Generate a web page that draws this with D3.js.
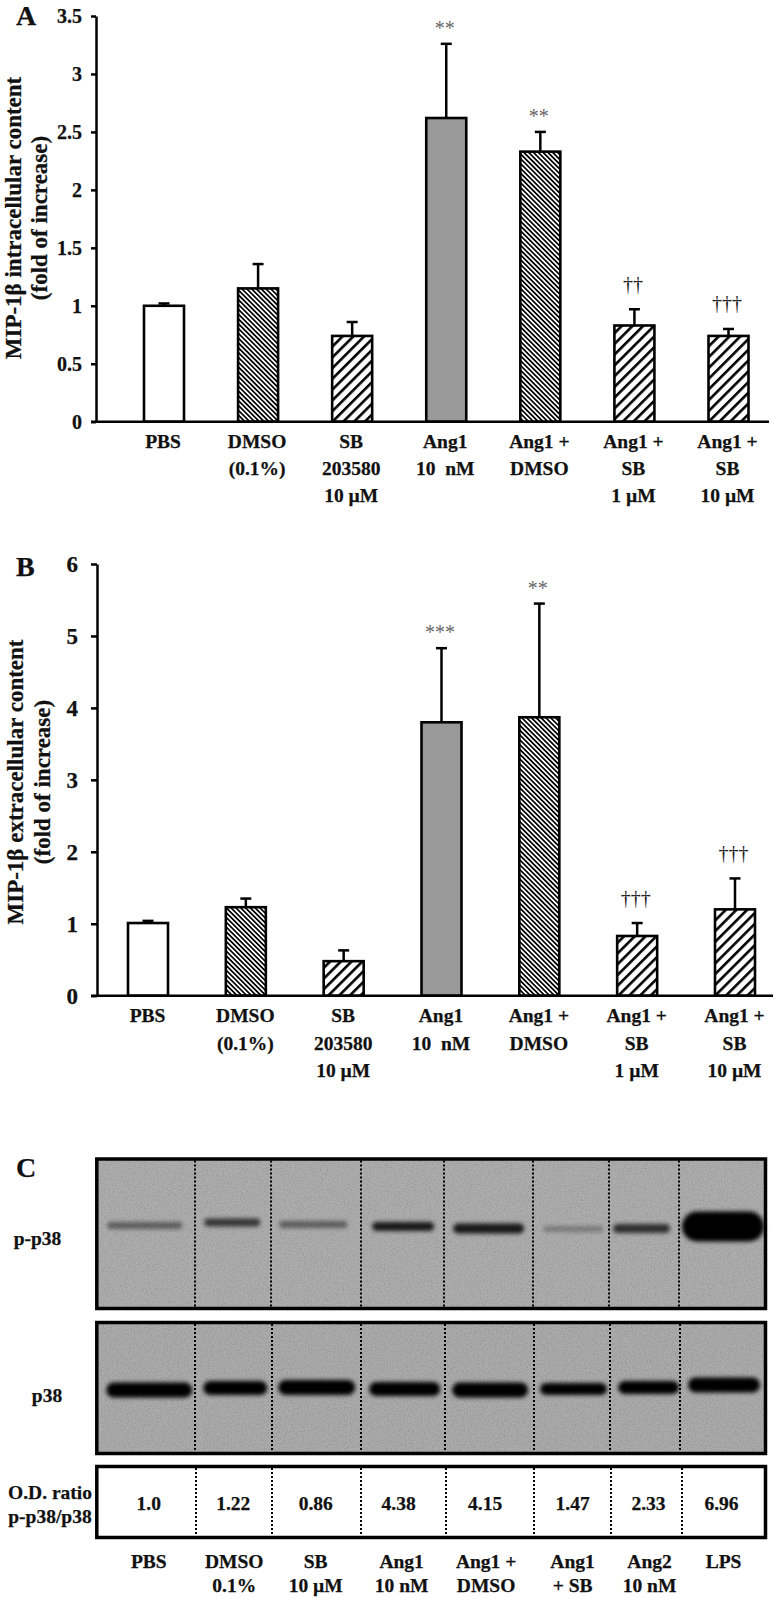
<!DOCTYPE html>
<html>
<head>
<meta charset="utf-8">
<script src="https://cdn.jsdelivr.net/npm/d3@7"></script>
<style>
  html, body { margin: 0; padding: 0; background: #fff; }
  svg { display: block; }
  text { font-family: "Liberation Serif", serif; font-weight: bold; fill: #111; stroke: #111; stroke-width: 0.25; white-space: pre; }
  .sig { font-weight: normal; font-size: 20px; stroke: none; }
</style>
</head>
<body>
<div id="figure"></div>
<script>
// Panels A and B share the treatments
var categories = ["PBS", "DMSO|(0.1%)", "SB|203580|10 µM", "Ang1|10  nM", "Ang1 +|DMSO", "Ang1 +|SB|1 µM", "Ang1 +|SB|10 µM"];

var valuesA = [1.0, 1.15, 0.74, 2.62, 2.33, 0.83, 0.74];
var errTopA = [1.02, 1.36, 0.86, 3.26, 2.50, 0.97, 0.80];
var sigA = ["", "", "", "**", "**", "††", "†††"];
var ticksA = [0, 0.5, 1, 1.5, 2, 2.5, 3, 3.5];

var valuesB = [1.01, 1.23, 0.48, 3.80, 3.87, 0.83, 1.20];
var errTopB = [1.04, 1.35, 0.63, 4.83, 5.45, 1.01, 1.63];
var sigB = ["", "", "", "***", "**", "†††", "†††"];
var ticksB = [0, 1, 2, 3, 4, 5, 6];

// Panel C
var laneLabels = ["PBS", "DMSO|0.1%", "SB|10 µM", "Ang1|10 nM", "Ang1 +|DMSO", "Ang1|+ SB", "Ang2|10 nM", "LPS"];
var odRatio = ["1.0", "1.22", "0.86", "4.38", "4.15", "1.47", "2.33", "6.96"];

// blot readings, gel units along the 672 wide membrane and down from the membrane top
var laneEdges1 = [100, 176, 266, 349, 438, 514, 584];
var laneEdges2 = [100, 177, 266, 350, 439, 515, 585];
var laneEdges3 = [101, 177, 266, 351, 439, 516, 587];

var pBandStart = [12, 109, 184, 277, 358, 448, 518, 587];
var pBandEnd = [87, 165, 252, 339, 429, 508, 575, 669];
var pBandMid = [68, 65, 67, 69, 71, 71.5, 71, 69];
var pBandThick = [7, 8, 7, 9, 10, 6, 9, 30];
var pBandDark = [0.45, 0.68, 0.45, 0.85, 0.85, 0.28, 0.72, 1];

var tBandStart = [11, 108, 183, 274, 357, 445, 523, 593];
var tBandEnd = [97, 172, 260, 345, 433, 512, 584, 665];
var tBandMid = [69, 67, 66.5, 68, 69, 68, 66.5, 64];
var tBandThick = [15, 14, 15, 14, 15, 12, 13, 15];

var svgWidth = 777;
var svgHeight = 1599;

// hand nudges so the lane text sits where it does in the figure
var ratioNudge = [3, -1, -1, -5, -5, 0, 2, -3];
var labelNudge = [3, 0, -1, -2, -4, 0, 3, -1];

var svg = d3.select("#figure")
  .append("svg")
  .attr("width", svgWidth)
  .attr("height", svgHeight);

svg.append("rect")
  .attr("width", svgWidth)
  .attr("height", svgHeight)
  .attr("fill", "#fff");

var defs = svg.append("defs");

function addHatch(id, period, lineWidth, angle) {
  var p = defs.append("pattern")
    .attr("id", id)
    .attr("patternUnits", "userSpaceOnUse")
    .attr("width", period)
    .attr("height", period)
    .attr("patternTransform", `rotate(${angle})`);
  p.append("rect").attr("width", period).attr("height", period).attr("fill", "#fff");
  p.append("rect").attr("width", lineWidth).attr("height", period).attr("fill", "#000");
}
addHatch("dense", 3.4, 1.7, -45);
addHatch("wide", 7.6, 2.6, 45);

// film grain and soft edges for the blots
var grain = defs.append("filter").attr("id", "grain").attr("x", 0).attr("y", 0).attr("width", 1).attr("height", 1);
grain.append("feTurbulence").attr("type", "fractalNoise").attr("baseFrequency", 0.7).attr("numOctaves", 2).attr("seed", 4);
grain.append("feColorMatrix").attr("type", "matrix")
  .attr("values", "0 0 0 0 0  0 0 0 0 0  0 0 0 0 0  1.4 0 0 0 -0.55");

defs.append("filter").attr("id", "soft").attr("x", "-20%").attr("y", "-100%").attr("width", "140%").attr("height", "300%")
  .append("feGaussianBlur").attr("stdDeviation", 2.1);

var barFill = d3.scaleOrdinal()
  .domain(categories)
  .range(["#fff", "url(#dense)", "url(#wide)", "#999", "url(#dense)", "url(#wide)", "url(#wide)"]);

function drawBarPanel(cfg) {
  var x = d3.scalePoint().domain(categories).range(cfg.xRange);
  var y = d3.scaleLinear().domain(cfg.yDomain).range(cfg.yRange);
  var barW = 40;

  var rows = categories.map(function(c, i) {
    return { cat: c, value: cfg.values[i], err: cfg.errTop[i], sig: cfg.sig[i] };
  });

  var g = svg.append("g");

  // error bars go first, the bar outline sits on top of them
  g.selectAll(".err")
    .data(rows)
    .enter()
    .append("line")
    .attr("class", "err")
    .attr("x1", d => x(d.cat))
    .attr("x2", d => x(d.cat))
    .attr("y1", d => y(d.value))
    .attr("y2", d => y(d.err))
    .attr("stroke", "#000")
    .attr("stroke-width", 2.5);

  g.selectAll(".cap")
    .data(rows)
    .enter()
    .append("line")
    .attr("class", "cap")
    .attr("x1", d => x(d.cat) - 5.5)
    .attr("x2", d => x(d.cat) + 5.5)
    .attr("y1", d => y(d.err))
    .attr("y2", d => y(d.err))
    .attr("stroke", "#000")
    .attr("stroke-width", 2.5);

  g.selectAll(".bar")
    .data(rows)
    .enter()
    .append("rect")
    .attr("class", "bar")
    .attr("x", d => x(d.cat) - barW / 2)
    .attr("width", barW)
    .attr("y", d => y(d.value))
    .attr("height", d => y(0) - y(d.value))
    .attr("fill", d => barFill(d.cat))
    .attr("stroke", "#000")
    .attr("stroke-width", 2.6);

  g.selectAll(".sig")
    .data(rows.filter(d => d.sig))
    .enter()
    .append("text")
    .attr("class", "sig")
    .attr("x", d => x(d.cat) - 1.5)
    .attr("y", d => y(d.err) - (d.sig[0] === "*" ? 9 : 18.5))
    .attr("text-anchor", "middle")
    .style("fill", d => d.sig[0] === "*" ? "#666" : "#222")
    .text(d => d.sig);

  // y axis
  var yAxis = g.append("g")
    .attr("transform", `translate(${cfg.axisX}, 0)`)
    .call(d3.axisLeft(y).tickValues(cfg.ticks).tickSize(cfg.tickLen).tickSizeOuter(0).tickPadding(cfg.tickPad).tickFormat(d => d));
  yAxis.select(".domain").attr("stroke", "#000").attr("stroke-width", 2.5);
  yAxis.selectAll(".tick line").attr("stroke", "#000").attr("stroke-width", 2.5);
  yAxis.selectAll(".tick text").attr("font-size", cfg.tickFont).attr("font-family", "Liberation Serif");

  // x axis, only the labels come from the axis, the base line runs past the last bar
  var xAxis = g.append("g")
    .attr("transform", `translate(0, ${y(0)})`)
    .call(d3.axisBottom(x).tickSize(0).tickPadding(0));
  xAxis.select(".domain").remove();
  xAxis.selectAll(".tick text").remove();
  xAxis.selectAll(".tick").each(function(d) {
    var lines = d.split("|");
    var label = d3.select(this).append("text")
      .attr("text-anchor", "middle")
      .attr("font-size", 19.5);
    lines.forEach(function(t, j) {
      label.append("tspan")
        .attr("x", cfg.labelShift)
        .attr("y", cfg.labelTop + j * cfg.labelStep)
        .text(t);
    });
  });

  g.append("line")
    .attr("x1", cfg.axisX - cfg.tickLen)
    .attr("x2", cfg.axisEnd)
    .attr("y1", y(0))
    .attr("y2", y(0))
    .attr("stroke", "#000")
    .attr("stroke-width", 2.5);

  // y title
  var title = g.append("g")
    .attr("transform", `translate(0, ${cfg.titleMid}) rotate(-90)`);
  title.append("text").attr("text-anchor", "middle").attr("y", cfg.titleX[0]).attr("font-size", 23).text(cfg.title[0]);
  title.append("text").attr("text-anchor", "middle").attr("y", cfg.titleX[1]).attr("font-size", 23).text(cfg.title[1]);

  g.append("text")
    .attr("x", cfg.letter[0])
    .attr("y", cfg.letter[1])
    .attr("font-size", 28)
    .text(cfg.letter[2]);
}

drawBarPanel({
  values: valuesA, errTop: errTopA, sig: sigA, ticks: ticksA,
  xRange: [164, 728.5], yDomain: [0, 3.5], yRange: [421.7, 16],
  axisX: 96, axisEnd: 769, tickLen: 5, tickPad: 9, tickFont: 20,
  labelTop: 26.5, labelStep: 26.7, labelShift: -1.5,
  title: ["MIP-1β intracellular content", "(fold of increase)"], titleMid: 218, titleX: [21, 47],
  letter: [16, 25, "A"]
});

drawBarPanel({
  values: valuesB, errTop: errTopB, sig: sigB, ticks: ticksB,
  xRange: [148, 735], yDomain: [0, 6], yRange: [995.7, 564],
  axisX: 97, axisEnd: 773, tickLen: 6, tickPad: 13, tickFont: 23,
  labelTop: 26.5, labelStep: 27.5, labelShift: -1,
  title: ["MIP-1β extracellular content", "(fold of increase)"], titleMid: 782, titleX: [23, 50],
  letter: [16, 576, "B"]
});

// Panel C
var gelX = d3.scaleLinear().domain([0, 672]).range([95.3, 767]);
var panelBorder = 3.5;

function drawFrame(top, bottom, fill, edges) {
  var f = svg.append("g");
  f.append("rect")
    .attr("x", gelX(0) + 1.5)
    .attr("y", top + 1.5)
    .attr("width", gelX(672) - gelX(0) - 3)
    .attr("height", bottom - top - 3)
    .attr("fill", fill);
  if (fill !== "#fff") {
    f.append("rect")
      .attr("x", gelX(0) + 1.5)
      .attr("y", top + 1.5)
      .attr("width", gelX(672) - gelX(0) - 3)
      .attr("height", bottom - top - 3)
      .attr("filter", "url(#grain)")
      .attr("opacity", 0.2);
  }
  return { g: f, top: top, bottom: bottom, edges: edges };
}

function closeFrame(frame) {
  frame.g.selectAll(".lane")
    .data(frame.edges)
    .enter()
    .append("line")
    .attr("class", "lane")
    .attr("x1", d => Math.round(gelX(d)))
    .attr("x2", d => Math.round(gelX(d)))
    .attr("y1", frame.top + 3)
    .attr("y2", frame.bottom - 3)
    .attr("stroke", "#000")
    .attr("stroke-width", 2)
    .attr("stroke-dasharray", "2 2");
  frame.g.append("rect")
    .attr("x", gelX(0) + 1.5)
    .attr("y", frame.top + 1.5)
    .attr("width", gelX(672) - gelX(0) - 3)
    .attr("height", frame.bottom - frame.top - 3)
    .attr("fill", "none")
    .attr("stroke", "#000")
    .attr("stroke-width", panelBorder);
}

function drawBands(frame, start, end, mid, thick, dark) {
  var rows = start.map(function(s, i) {
    return { s: s, e: end[i], m: mid[i], t: thick[i], d: dark ? dark[i] : 1 };
  });
  frame.g.selectAll(".band")
    .data(rows)
    .enter()
    .append("rect")
    .attr("class", "band")
    .attr("x", d => gelX(d.s))
    .attr("width", d => gelX(d.e) - gelX(d.s))
    .attr("y", d => frame.top + d.m - d.t / 2)
    .attr("height", d => d.t)
    .attr("rx", d => d.t / 2)
    .attr("fill", "#000")
    .attr("opacity", d => d.d)
    .attr("filter", "url(#soft)");
}

var blotTop = drawFrame(1157.5, 1310, "#aeaeae", laneEdges1);
drawBands(blotTop, pBandStart, pBandEnd, pBandMid, pBandThick, pBandDark);
closeFrame(blotTop);

var blotTotal = drawFrame(1321, 1455, "#acacac", laneEdges2);
drawBands(blotTotal, tBandStart, tBandEnd, tBandMid, tBandThick);
closeFrame(blotTotal);

var ratioRow = drawFrame(1465, 1539, "#fff", laneEdges3);
closeFrame(ratioRow);

var laneMid = d3.pairs([0].concat(laneEdges3, [672]), (a, b) => (a + b) / 2);

svg.selectAll(".ratio")
  .data(odRatio)
  .enter()
  .append("text")
  .attr("class", "ratio")
  .attr("x", (d, i) => gelX(laneMid[i]) + ratioNudge[i])
  .attr("y", 1510)
  .attr("text-anchor", "middle")
  .attr("font-size", 19.5)
  .text(d => d);

svg.selectAll(".laneLabel")
  .data(laneLabels)
  .enter()
  .append("text")
  .attr("class", "laneLabel")
  .attr("text-anchor", "middle")
  .attr("font-size", 19.5)
  .each(function(d, i) {
    var t = d3.select(this);
    d.split("|").forEach(function(line, j) {
      t.append("tspan")
        .attr("x", gelX(laneMid[i]) + labelNudge[i])
        .attr("y", 1568 + j * 23.5)
        .text(line);
    });
  });

var rowLabels = [
  { text: "p-p38", x: 37.5, y: 1245 },
  { text: "p38", x: 47, y: 1402 },
  { text: "O.D. ratio", x: 50, y: 1499 },
  { text: "p-p38/p38", x: 50, y: 1523 }
];
svg.selectAll(".rowLabel")
  .data(rowLabels)
  .enter()
  .append("text")
  .attr("class", "rowLabel")
  .attr("x", d => d.x)
  .attr("y", d => d.y)
  .attr("text-anchor", "middle")
  .attr("font-size", 19.5)
  .text(d => d.text);

svg.append("text")
  .attr("x", 16)
  .attr("y", 1177)
  .attr("font-size", 28)
  .text("C");
</script>
</body>
</html>
